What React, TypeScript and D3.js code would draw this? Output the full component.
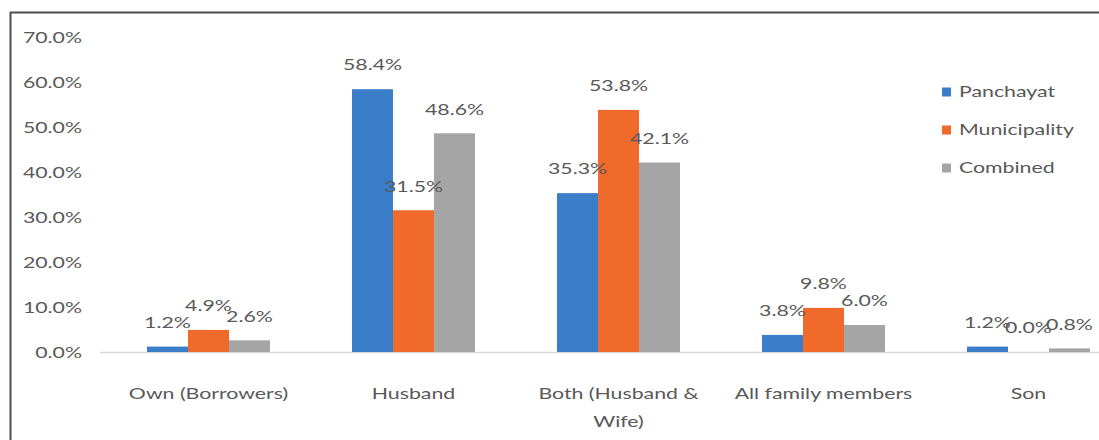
import React from "react";
import * as d3 from "d3";

const categories = ["Own (Borrowers)", "Husband", "Both (Husband & Wife)", "All family members", "Son"];
const categoryLines: string[][] = [["Own (Borrowers)"], ["Husband"], ["Both (Husband &", "Wife)"], ["All family members"], ["Son"]];
const seriesNames = ["Panchayat", "Municipality", "Combined"];
const panchayat = [1.2, 58.4, 35.3, 3.8, 1.2];
const municipality = [4.9, 31.5, 53.8, 9.8, 0.0];
const combined = [2.6, 48.6, 42.1, 6.0, 0.8];
const yTicks = [0, 10, 20, 30, 40, 50, 60, 70];
const colors = ["#3A7DC9", "#EF6A2B", "#A5A5A5"];

const W = 1099;
const H = 440;
const SX = 1.42;
const FONT = "Lato, 'Open Sans', sans-serif";
const TXT = "#595959";

export default function App() {
  const values = [panchayat, municipality, combined];
  const x = d3.scaleBand<string>().domain(categories).range([106, 1131]).paddingInner(0.4).paddingOuter(0.2);
  const xs = d3.scaleBand<string>().domain(seriesNames).range([0, x.bandwidth()]).padding(0);
  const y = d3.scaleLinear().domain([0, 70]).range([352, 37]);
  const fmt = (v: number) => v.toFixed(1) + "%";

  const st = (tx: number, ty: number) => `translate(${tx},${ty}) scale(${SX},1)`;

  return (
    <svg width={W} height={H} style={{ position: "absolute", left: 0, top: 0, display: "block", background: "#fff" }} fontFamily={FONT}>
      <rect x={0} y={0} width={W} height={H} fill="#fff" />
      {/* frame */}
      <rect x={10.5} y={12.5} width={W + 20} height={H + 20} fill="none" stroke="#4d4d4d" strokeWidth={2} />
      {/* y tick labels */}
      {yTicks.map((t) => (
        <text key={t} transform={st(82, y(t) + 1)} textAnchor="end" dy="0.35em" fontSize={15} fill={TXT}>
          {t.toFixed(1) + "%"}
        </text>
      ))}
      {/* baseline */}
      <line x1={100} x2={W} y1={y(0) + 0.5} y2={y(0) + 0.5} stroke="#d9d9d9" strokeWidth={1.5} />
      {/* bars */}
      {seriesNames.map((s, si) =>
        categories.map((c, ci) => {
          const v = values[si][ci];
          const bx = (x(c) ?? 0) + (xs(s) ?? 0);
          return (
            <rect key={s + c} x={bx} y={y(v)} width={xs.bandwidth()} height={y(0) - y(v)} fill={colors[si]} />
          );
        })
      )}
      {/* data labels */}
      {seriesNames.map((s, si) =>
        categories.map((c, ci) => {
          const v = values[si][ci];
          const cx = (x(c) ?? 0) + (xs(s) ?? 0) + xs.bandwidth() / 2;
          return (
            <text key={"l" + s + c} transform={st(cx, y(v) - 24)} textAnchor="middle" dy="0.35em" fontSize={15} fill={TXT}>
              {fmt(v)}
            </text>
          );
        })
      )}
      {/* category labels */}
      {categories.map((c, ci) => {
        const cx = (x(c) ?? 0) + x.bandwidth() / 2;
        return (
          <text key={"c" + c} transform={st(cx, 394)} textAnchor="middle" fontSize={15} fill={TXT}>
            {categoryLines[ci].map((ln, li) => (
              <tspan key={li} x={0} dy={li === 0 ? "0.35em" : 28}>
                {ln}
              </tspan>
            ))}
          </text>
        );
      })}
      {/* legend */}
      {seriesNames.map((s, si) => {
        const ly = 92 + si * 38;
        return (
          <g key={"lg" + s}>
            <rect x={942} y={ly - 4.5} width={9} height={9} fill={colors[si]} />
            <text transform={st(959, ly)} dy="0.35em" fontSize={15} fill={TXT}>
              {s}
            </text>
          </g>
        );
      })}
    </svg>
  );
}
